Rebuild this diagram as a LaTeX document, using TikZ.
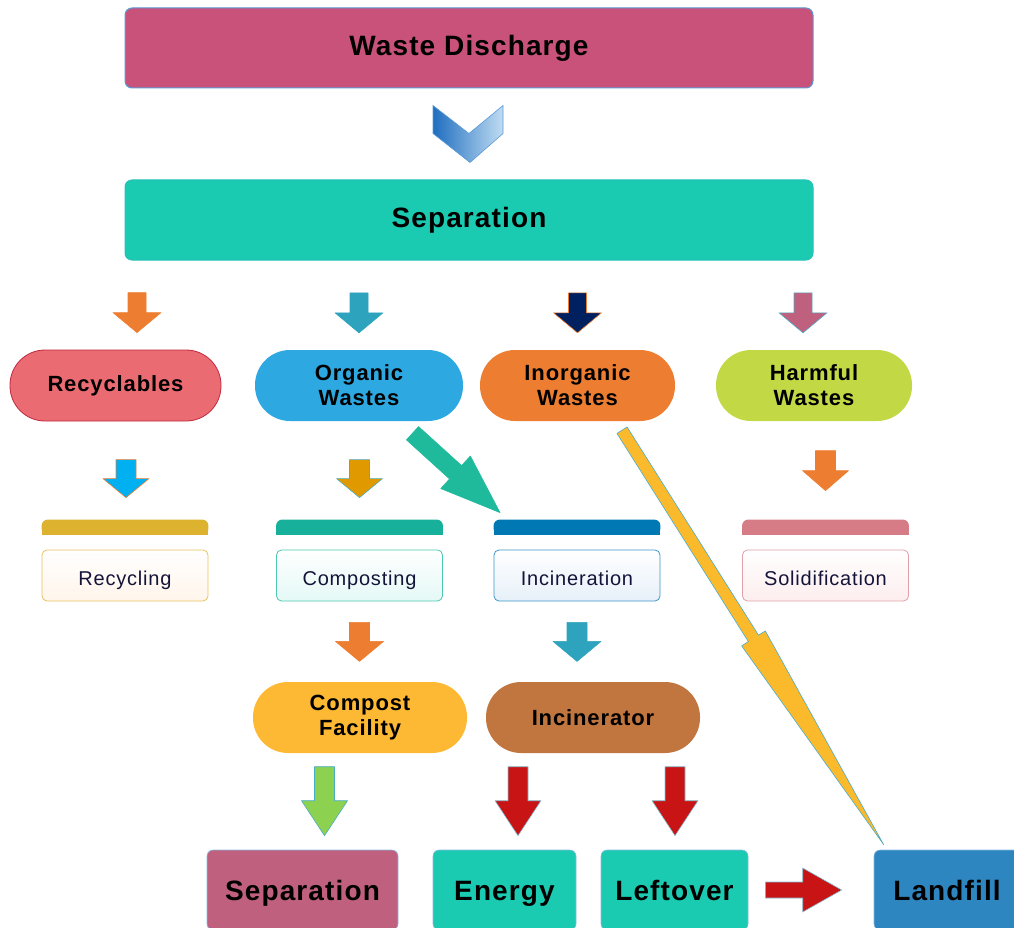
\documentclass[tikz,border=0pt]{standalone}
\usepackage{fontspec}
\setsansfont{Liberation Sans}[LetterSpace=4]
\usetikzlibrary{calc}
\usetikzlibrary{positioning}
\tikzset{every picture/.style={/utils/exec={\sffamily}}}

\definecolor{wdcol}{HTML}{C8527A}
\definecolor{edgeblue}{HTML}{5B9BD5}
\definecolor{sepcol}{HTML}{1ACBB1}
\definecolor{aorange}{HTML}{ED7D31}
\definecolor{ateal}{HTML}{2EA3BE}
\definecolor{anavy}{HTML}{002060}
\definecolor{apink}{HTML}{C0607F}
\definecolor{acyan}{HTML}{00B0F0}
\definecolor{agold}{HTML}{E09A00}
\definecolor{agreen}{HTML}{8CD150}
\definecolor{ared}{HTML}{C81414}
\definecolor{adiag}{HTML}{1FBA9B}
\definecolor{ayellow}{HTML}{FBBA2C}
\definecolor{aline}{HTML}{4BACC6}
\definecolor{recfill}{HTML}{EB6B73}
\definecolor{recline}{HTML}{C0283C}
\definecolor{orgfill}{HTML}{2EA8E0}
\definecolor{harmfill}{HTML}{C2D945}
\definecolor{cfacfill}{HTML}{FDB933}
\definecolor{incrfill}{HTML}{C0763E}
\definecolor{landfill}{HTML}{2E86C1}
\definecolor{cardtext}{HTML}{14143A}
\definecolor{chevdark}{HTML}{1F6EC0}
\definecolor{chevlight}{HTML}{C0DCF2}
% card strips and frames
\definecolor{hdgold}{HTML}{DDB22E}
\definecolor{hdteal}{HTML}{17B09A}
\definecolor{hdblue}{HTML}{0078B4}
\definecolor{hdpink}{HTML}{D57C87}
\definecolor{frgold}{HTML}{E6C25A}
\definecolor{frteal}{HTML}{4CC7B0}
\definecolor{frblue}{HTML}{3C96C8}
\definecolor{frpink}{HTML}{E0A0A8}

\tikzset{every node/.style={align=center, text=black},
         banner/.style={ % wide bars at the top
           draw=edgeblue, line width=1pt, rounded corners=7pt,
           minimum width=688pt, minimum height=80pt,
           font=\bfseries\fontsize{28}{30}\selectfont},
         pill/.style={ % rounded categories
           rounded corners=35pt, minimum height=71pt, inner sep=0pt,
           font=\bfseries\fontsize{22}{25}\selectfont},
         card/.style={ % method cards
           draw=#1, line width=0.8pt, rounded corners=5pt,
           minimum width=166pt, minimum height=51pt,
           text height=20pt, text depth=0pt,
           font=\fontsize{20}{22}\selectfont, text=cardtext},
         result/.style={ % boxes at the bottom
           draw=edgeblue!70, line width=0.6pt, rounded corners=6pt,
           minimum height=80pt, inner sep=0pt,
           text height=20pt, text depth=0pt,
           font=\bfseries\fontsize{28}{30}\selectfont},
         blk/.style={fill=#1, draw=#1, line width=0.6pt, line join=round}}

% block arrow: style, from, to, shaft half width, head half width, head length
\newcommand{\fatarrow}[6][]{%
  \coordinate (fa-s) at #2;
  \coordinate (fa-e) at #3;
  \coordinate (fa-h) at ($(fa-e)!#6!(fa-s)$);
  \path[#1] ($(fa-s)!#4!90:(fa-e)$) -- ($(fa-h)!#4!90:(fa-e)$)
    -- ($(fa-h)!#5!90:(fa-e)$) -- (fa-e) -- ($(fa-h)!#5!-90:(fa-e)$)
    -- ($(fa-h)!#4!-90:(fa-e)$) -- ($(fa-s)!#4!-90:(fa-e)$) -- cycle;}

% coloured strip above a card
\newcommand{\cardhead}[2]{%
  \fill[#2, rounded corners=6pt] ($(#1.north west)+(0,-30)$) rectangle ($(#1.north east)+(0,-15)$);
  \fill[#2] ($(#1.north west)+(0,-23)$) rectangle ($(#1.north east)+(0,-15)$);}

\begin{document}
\begin{tikzpicture}[x=1pt, y=-1pt]
  \useasboundingbox (0,0) rectangle (1014,928);

  \node [banner, fill=wdcol] (wdisch) at (469,48) {Waste Discharge};
  \node [banner, fill=sepcol, draw=sepcol!80!edgeblue] (sepa) at (469,220) {Separation};

  % chevron between the two bars
  \shade[left color=chevdark, right color=chevlight, draw=edgeblue, line width=0.6pt]
    ($(wdisch.south)+(-36,17)$) -- ($(wdisch.south)+(0,45)$) -- ($(wdisch.south)+(34,17)$)
    -- ($(wdisch.south)+(34,45)$) -- ($(wdisch.south)+(1,74)$) -- ($(wdisch.south)+(-36,45)$) -- cycle;

  \node [pill, fill=recfill, draw=recline, line width=0.8pt, minimum width=211pt] (recy) at (115.5,385.5) {Recyclables};
  \node [pill, fill=orgfill, minimum width=208pt] (orga) at (359,385.5) {Organic\\Wastes};
  \node [pill, fill=aorange, minimum width=195pt] (inorg) at (577.5,385.5) {Inorganic\\Wastes};
  \node [pill, fill=harmfill, minimum width=196pt] (harm) at (814,385.5) {Harmful\\Wastes};

  \fatarrow[blk=aorange]{($(recy.north)+(21.5,-57)$)}{($(recy.north)+(21.5,-17)$)}{9pt}{24pt}{20pt}
  \fatarrow[blk=ateal]{($(orga.north)+(0,-57)$)}{($(orga.north)+(0,-17)$)}{9pt}{24pt}{20pt}
  \fatarrow[blk=anavy, draw=aorange]{($(inorg.north)+(0,-57)$)}{($(inorg.north)+(0,-17)$)}{9pt}{24pt}{20pt}
  \fatarrow[blk=apink, draw=aline]{($(harm.north)+(-11,-57)$)}{($(harm.north)+(-11,-17)$)}{9pt}{24pt}{20pt}

  \node [card=frgold, top color=white, bottom color=orange!8] (recyc) at (125,575.5) {Recycling};
  \node [card=frteal, top color=white, bottom color=sepcol!12] (compo) at (359.5,575.5) {Composting};
  \node [card=frblue, top color=white, bottom color=edgeblue!15] (incin) at (577,575.5) {Incineration};
  \node [card=frpink, top color=white, bottom color=recfill!12] (solid) at (825.5,575.5) {Solidification};
  \cardhead{recyc}{hdgold}
  \cardhead{compo}{hdteal}
  \cardhead{incin}{hdblue}
  \cardhead{solid}{hdpink}

  \fatarrow[blk=acyan, draw=aorange]{($(recyc.north)+(1,-90)$)}{($(recyc.north)+(1,-52)$)}{10pt}{23pt}{19pt}
  \fatarrow[blk=agold, draw=aline]{($(compo.north)+(0,-90)$)}{($(compo.north)+(0,-52)$)}{10pt}{23pt}{19pt}
  \fatarrow[blk=aorange]{($(solid.north)+(0,-99)$)}{($(solid.north)+(0,-59)$)}{10pt}{23pt}{20pt}
  \fatarrow[blk=adiag]{($(orga.south)+(53.5,12)$)}{($(incin.north)+(-77,-37)$)}{9pt}{22pt}{60pt}

  \node [pill, fill=cfacfill, minimum width=214pt] (cfac) at (360,717.5) {Compost\\Facility};
  \node [pill, fill=incrfill, minimum width=214pt] (incr) at (593,717.5) {Incinerator};

  \fatarrow[blk=aorange]{($(compo.south)+(0,21)$)}{($(compo.south)+(0,60)$)}{10pt}{24pt}{20pt}
  \fatarrow[blk=ateal]{($(incin.south)+(0,21)$)}{($(incin.south)+(0,60)$)}{10pt}{24pt}{20pt}

  \node [result, fill=apink, minimum width=191pt] (sepout) at (302.5,890) {Separation};
  \node [result, fill=sepcol, minimum width=143pt] (energy) at (504.5,890) {Energy};
  \node [result, fill=sepcol, minimum width=147pt] (leftover) at (674.5,890) {Leftover};
  \node [result, fill=landfill, minimum width=146pt] (landf) at (947,890) {Landfill};

  \fatarrow[blk=agreen, draw=aline]{($(sepout.north)+(22,-83)$)}{($(sepout.north)+(22,-14)$)}{10pt}{23pt}{35pt}
  \fatarrow[blk=ared, draw=aline!70]{($(energy.north)+(13.5,-83)$)}{($(energy.north)+(13.5,-14)$)}{10pt}{23pt}{35pt}
  \fatarrow[blk=ared, draw=aline!70]{($(leftover.north)+(0.5,-83)$)}{($(leftover.north)+(0.5,-14)$)}{10pt}{23pt}{35pt}
  \fatarrow[blk=ared, draw=aline!70]{($(leftover.east)+(17,0)$)}{($(landf.west)+(-32,0)$)}{8pt}{22pt}{39pt}

  \fatarrow[blk=ayellow, draw=aline]{($(inorg.south)+(44.5,9)$)}{($(landf.north west)+(10,-5)$)}{6pt}{14pt}{244pt}
\end{tikzpicture}
\end{document}
